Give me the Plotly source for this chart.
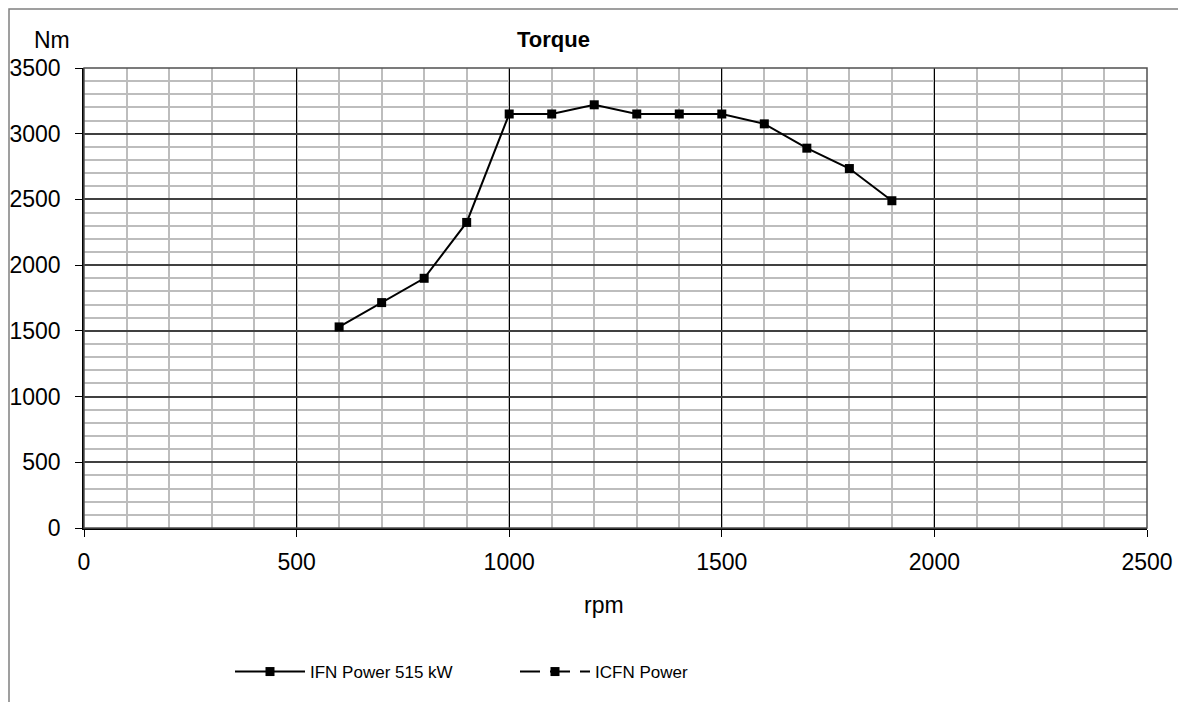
import plotly.graph_objects as go

rpm = [600, 700, 800, 900, 1000, 1100, 1200, 1300, 1400, 1500, 1600, 1700, 1800, 1900]
torque_ifn = [1530, 1715, 1900, 2325, 3150, 3150, 3220, 3150, 3150, 3150, 3075, 2890, 2735, 2490]
torque_icfn = []  # ICFN Power series: legend only, no visible points

FONT = "Liberation Sans, Arial, sans-serif"

# the page is shown with an 8px body offset; plot area in figure px: x 76..1139, y 60..520
L, T, W, H = 76, 60, 1063, 460
def px(x):  # figure-pixel x -> paper
    return (x - L) / W
def py(y):  # figure-pixel y -> paper
    return (T + H - y) / H

fig = go.Figure()
fig.add_trace(go.Scatter(
    x=rpm, y=torque_ifn, mode="lines+markers", name="IFN Power 515 kW",
    line=dict(color="black", width=2),
    marker=dict(symbol="square", size=9, color="black"),
))
fig.add_trace(go.Scatter(
    x=[None] if not torque_icfn else rpm[:len(torque_icfn)],
    y=[None] if not torque_icfn else torque_icfn,
    mode="lines+markers", name="ICFN Power",
    line=dict(color="black", width=2, dash="20px,10px"),
    marker=dict(symbol="square", size=9, color="black"),
))

fig.update_layout(
    width=1186, height=702,
    margin=dict(l=L, r=1186 - L - W, t=T, b=702 - T - H, autoexpand=False),
    paper_bgcolor="white", plot_bgcolor="white",
    font=dict(family=FONT, color="black"),
    showlegend=True,
    legend=dict(orientation="h", x=px(222), xanchor="left", y=py(664), yanchor="middle",
                font=dict(size=17, family=FONT), itemwidth=70,
                entrywidth=200, entrywidthmode="pixels", traceorder="normal"),
    xaxis=dict(
        range=[0, 2500], tickvals=[0, 500, 1000, 1500, 2000, 2500],
        showgrid=True, gridcolor="black", gridwidth=1,
        minor=dict(dtick=100, tick0=0, showgrid=True, gridcolor="#bdbdbd", gridwidth=2),
        showline=True, linecolor="black", linewidth=1.5,
        ticks="outside", ticklen=7, tickcolor="black", automargin=False,
        tickfont=dict(size=23), ticklabelstandoff=6, zeroline=False,
    ),
    yaxis=dict(
        range=[0, 3500], tickvals=[0, 500, 1000, 1500, 2000, 2500, 3000, 3500],
        showgrid=True, gridcolor="#404040", gridwidth=1.5,
        minor=dict(dtick=100, tick0=0, showgrid=True, gridcolor="#bdbdbd", gridwidth=2),
        showline=True, linecolor="black", linewidth=1.5,
        ticks="outside", ticklen=7, tickcolor="black", automargin=False,
        tickfont=dict(size=23), ticklabelstandoff=10, zeroline=False,
    ),
    shapes=[
        dict(type="rect", xref="paper", yref="paper", x0=0, x1=1, y0=0, y1=1,
             line=dict(color="#505050", width=1.5), layer="above"),
        dict(type="rect", xref="paper", yref="paper", x0=px(1), x1=1.2, y0=-0.5, y1=py(1),
             line=dict(color="#808080", width=1.5)),
    ],
    annotations=[
        dict(text="<b>Torque</b>", xref="paper", yref="paper", x=px(545),
             y=py(32), showarrow=False, font=dict(size=22), xanchor="center", yanchor="middle"),
        dict(text="Nm", xref="paper", yref="paper", x=px(44),
             y=py(32), showarrow=False, font=dict(size=23), xanchor="center", yanchor="middle"),
        dict(text="rpm", xref="paper", yref="paper", x=px(596),
             y=py(597), showarrow=False, font=dict(size=23), xanchor="center", yanchor="middle"),
    ],
)

fig.write_html("out.html")
